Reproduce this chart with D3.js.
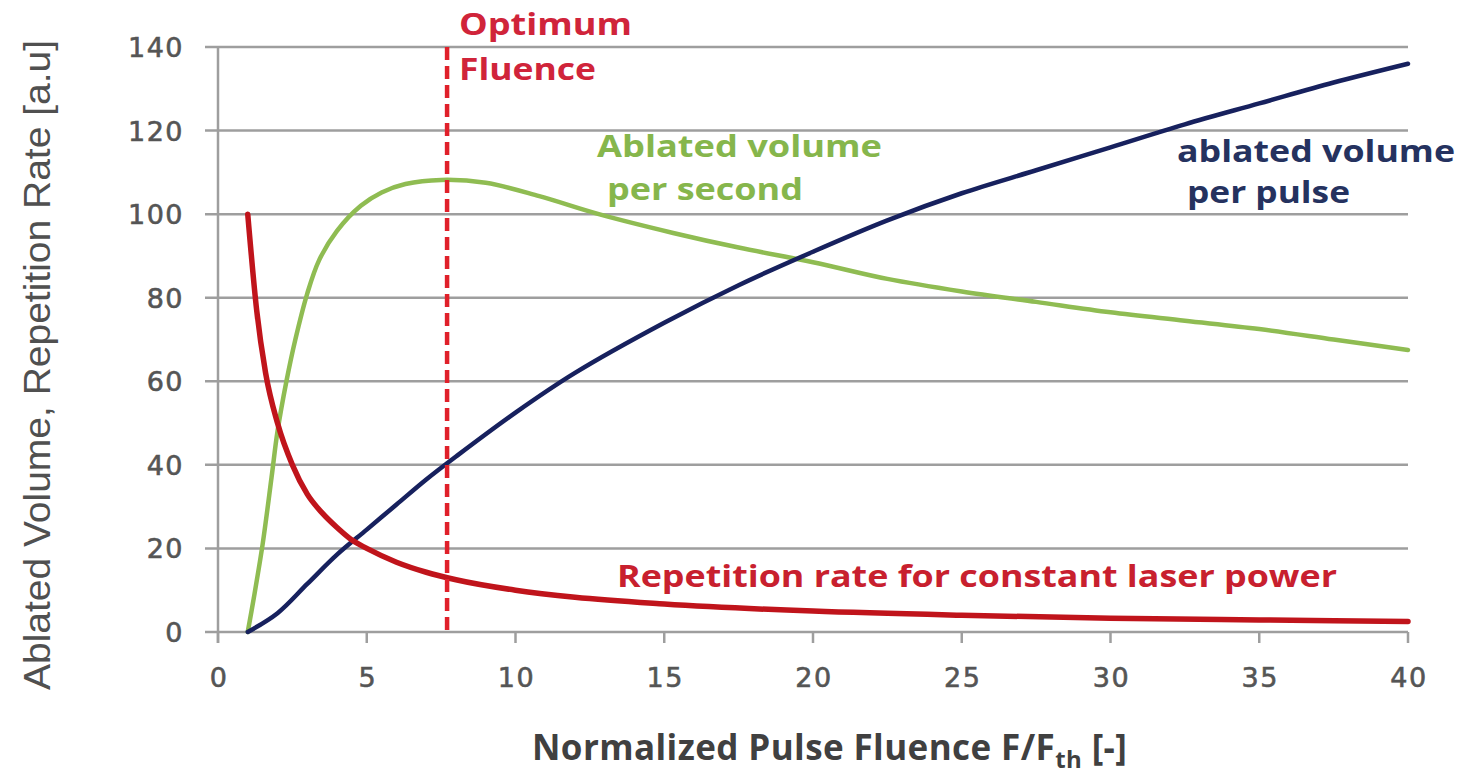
<!DOCTYPE html>
<html>
<head>
<meta charset="utf-8">
<script src="https://cdn.jsdelivr.net/npm/d3@7"></script>
<style>
  body { margin: 0; background: #fff; }
  svg { display: block; }
</style>
</head>
<body>
<svg width="1464" height="777"></svg>
<script>
// repetition rate for constant laser power (red)
var repX = [1, 1.3, 1.6, 2, 2.5, 3, 3.5, 4, 4.5, 5, 6, 7, 8, 10, 12, 15, 20, 25, 30, 35, 40];
var repY = [100, 77, 62, 50, 40, 33, 28.5, 25, 22, 20, 16.7, 14.3, 12.5, 10, 8.3, 6.7, 5, 4, 3.3, 2.9, 2.5];

// ablated volume per pulse (navy)
var pulseX = [1, 2, 3, 4, 5, 6, 7, 8, 10, 12, 15, 17.5, 20, 22.5, 25, 27.5, 30, 32.5, 35, 37.5, 40];
var pulseY = [0, 4.5, 11.5, 18.5, 24.5, 30.5, 36.5, 42, 52.5, 62, 74, 83, 91, 98.5, 105, 110.5, 116, 121.5, 126.5, 131.5, 136];

// ablated volume per second (green)
var secX = [1, 1.2, 1.5, 1.8, 2, 2.3, 2.6, 3, 3.4, 4, 4.8, 5.5, 6.3, 7.5, 9, 10.8, 12.8, 15.3, 17.5, 20, 22.5, 25, 27.5, 30, 32.5, 35, 37.5, 40];
var secY = [0, 8, 21, 37, 48, 60, 70, 81, 89, 96, 102, 105.2, 107.2, 108.2, 107.5, 104.3, 100, 95.5, 92, 88.5, 84.5, 81.5, 79, 76.5, 74.5, 72.5, 70, 67.5];

var optimumX = 7.7;
var xTicks = [0, 5, 10, 15, 20, 25, 30, 35, 40];
var yTicks = [0, 20, 40, 60, 80, 100, 120, 140];

var svg = d3.select("svg");

var x = d3.scaleLinear().domain([0, 40]).range([218, 1408]);
var y = d3.scaleLinear().domain([0, 140]).range([632, 47]);

// horizontal gridlines (extend left as tick marks)
svg.append("g").selectAll("line")
    .data(yTicks)
    .enter()
    .append("line")
    .attr("x1", 205).attr("x2", 1408)
    .attr("y1", function(d) { return y(d); })
    .attr("y2", function(d) { return y(d); })
    .attr("stroke", "#9e9e9e")
    .attr("stroke-width", 2.5);

// y axis line
svg.append("line")
    .attr("x1", x(0)).attr("x2", x(0))
    .attr("y1", y(140)).attr("y2", y(0) + 11)
    .attr("stroke", "#9e9e9e").attr("stroke-width", 2.5);

// x tick marks
svg.append("g").selectAll("line")
    .data(xTicks)
    .enter()
    .append("line")
    .attr("x1", function(d) { return x(d); })
    .attr("x2", function(d) { return x(d); })
    .attr("y1", y(0)).attr("y2", y(0) + 11)
    .attr("stroke", "#9e9e9e").attr("stroke-width", 2.5);

// tick labels
var tickFont = "Verdana, 'DejaVu Sans', sans-serif";
svg.append("g").selectAll("text")
    .data(yTicks)
    .enter()
    .append("text")
    .attr("x", 184)
    .attr("y", function(d) { return y(d) + 10; })
    .attr("text-anchor", "end")
    .style("font-family", tickFont)
    .style("font-size", "27px")
    .style("letter-spacing", "1.5px")
    .attr("fill", "#555")
    .attr("stroke", "#555")
    .attr("stroke-width", 0.6)
    .text(function(d) { return d; });

svg.append("g").selectAll("text")
    .data(xTicks)
    .enter()
    .append("text")
    .attr("x", function(d) { return x(d) + 1; })
    .attr("y", 687)
    .attr("text-anchor", "middle")
    .style("font-family", tickFont)
    .style("font-size", "27px")
    .style("letter-spacing", "1.5px")
    .attr("fill", "#555")
    .attr("stroke", "#555")
    .attr("stroke-width", 0.6)
    .text(function(d) { return d; });

// curves
function lineOf(xs, ys, curve) {
    var pts = xs.map(function(v, i) { return [v, ys[i]]; });
    return d3.line()
        .x(function(d) { return x(d[0]); })
        .y(function(d) { return y(d[1]); })
        .curve(curve)(pts);
}

svg.append("path")
    .attr("d", lineOf(secX, secY, d3.curveCatmullRom.alpha(0.5)))
    .attr("fill", "none")
    .attr("stroke", "#8fbc52")
    .attr("stroke-width", 4.5)
    .attr("stroke-linecap", "round");

svg.append("path")
    .attr("d", lineOf(pulseX, pulseY, d3.curveCatmullRom.alpha(0.5)))
    .attr("fill", "none")
    .attr("stroke", "#17215e")
    .attr("stroke-width", 4.5)
    .attr("stroke-linecap", "round");

svg.append("path")
    .attr("d", lineOf(repX, repY, d3.curveMonotoneX))
    .attr("fill", "none")
    .attr("stroke", "#c0141b")
    .attr("stroke-width", 5.5)
    .attr("stroke-linecap", "round");

// optimum fluence marker
svg.append("line")
    .attr("x1", x(optimumX)).attr("x2", x(optimumX))
    .attr("y1", y(140)).attr("y2", y(0))
    .attr("stroke", "#e0202a")
    .attr("stroke-width", 4.5)
    .attr("stroke-dasharray", "13,6");

// annotations
function label(txt, px, py, w, color) {
    svg.append("text")
        .attr("x", px).attr("y", py)
        .attr("textLength", w)
        .attr("lengthAdjust", "spacingAndGlyphs")
        .style("font-family", "'Open Sans', sans-serif")
        .style("font-weight", "bold")
        .style("font-size", "30px")
        .attr("fill", color)
        .text(txt);
}
label("Optimum", 459, 35, 173, "#d0243a");
label("Fluence", 459, 80, 137, "#d0243a");
label("Ablated volume", 597, 157, 285, "#86b64c");
label("per second", 607, 200, 196, "#86b64c");
label("ablated volume", 1177, 162, 278, "#25325f");
label("per pulse", 1187, 203, 163, "#25325f");
label("Repetition rate for constant laser power", 617, 587, 720, "#c8202e");

// axis titles
var xt = svg.append("text")
    .attr("x", 532).attr("y", 760)
    .style("font-family", "'Open Sans', sans-serif")
    .style("font-weight", "bold")
    .style("font-size", "35px")
    .style("letter-spacing", "0.4px")
    .attr("fill", "#404040");
xt.append("tspan").text("Normalized Pulse Fluence F/F");
xt.append("tspan").attr("dy", 8).style("font-size", "24px").text("th");
xt.append("tspan").attr("dy", -8).text(" [-]");

svg.append("text")
    .attr("transform", "translate(50,365) rotate(-90)")
    .attr("text-anchor", "middle")
    .attr("textLength", 650)
    .attr("lengthAdjust", "spacingAndGlyphs")
    .style("font-family", "'Liberation Sans Narrow', 'Liberation Sans', sans-serif")
    .style("font-size", "36px")
    .attr("fill", "#505050")
    .text("Ablated Volume, Repetition Rate [a.u]");
</script>
</body>
</html>
